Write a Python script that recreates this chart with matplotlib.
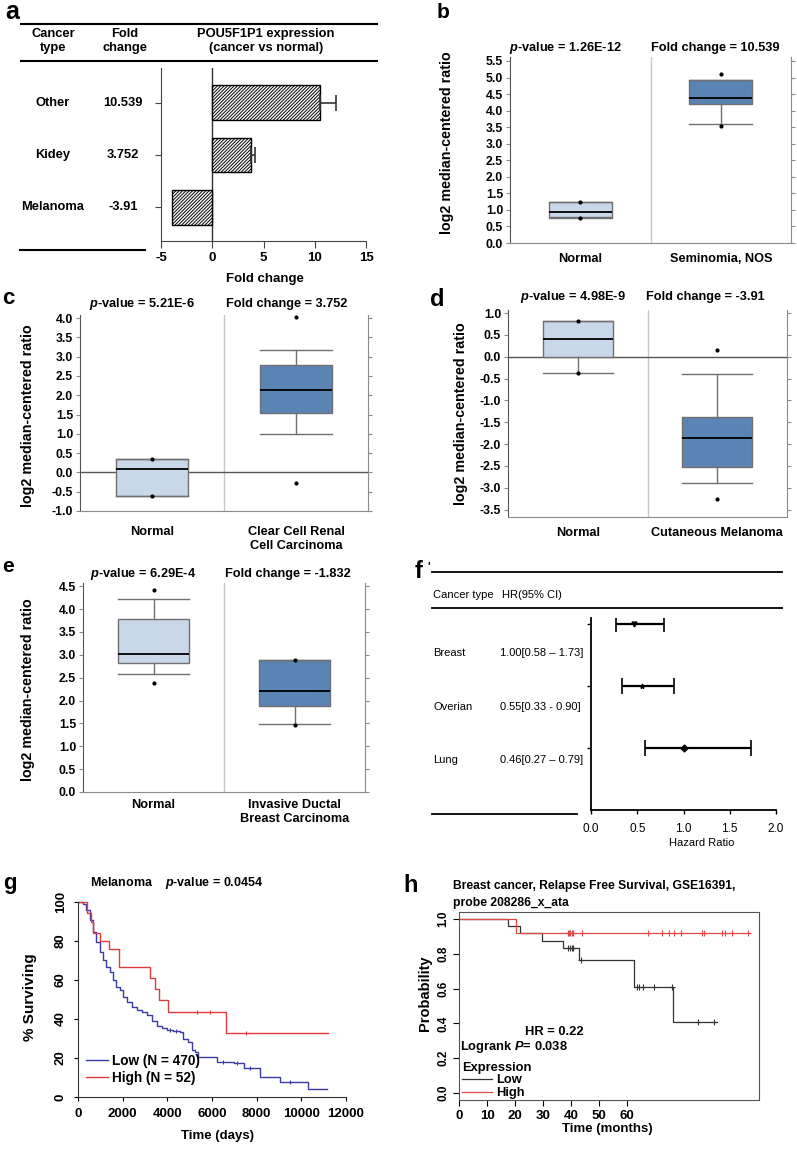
import numpy as np
import matplotlib
matplotlib.use("Agg")
import matplotlib.pyplot as plt
from matplotlib.lines import Line2D
from matplotlib import font_manager
from matplotlib.transforms import blended_transform_factory

# ---------------- data ----------------
# panel a
cancer_types = ["Other", "Kidey", "Melanoma"]
fold_changes = [10.539, 3.752, -3.91]
fold_err = [1.55, 0.43, 0.0]
fold_text = ["10.539", "3.752", "-3.91"]

# panel b (Oncomine box stats)
b_groups = ["Normal", "Seminomia, NOS"]
b_med = [0.95, 4.37]
b_q1 = [0.80, 4.20]
b_q3 = [1.25, 4.94]
b_lo = [0.77, 3.60]
b_hi = [1.25, 4.94]
b_out = [[1.25, 0.75], [5.12, 3.55]]

# panel c
c_groups = ["Normal", "Clear Cell Renal\nCell Carcinoma"]
c_med = [0.08, 2.14]
c_q1 = [-0.60, 1.55]
c_q3 = [0.34, 2.78]
c_lo = [-0.60, 0.99]
c_hi = [0.34, 3.17]
c_out = [[0.34, -0.60], [4.02, -0.28]]

# panel d
d_groups = ["Normal", "Cutaneous Melanoma"]
d_med = [0.40, -1.85]
d_q1 = [0.0, -2.53]
d_q3 = [0.82, -1.38]
d_lo = [-0.38, -2.89]
d_hi = [0.82, -0.39]
d_out = [[0.82, -0.38], [0.16, -3.26]]

# panel e
e_groups = ["Normal", "Invasive Ductal\nBreast Carcinoma"]
e_med = [3.02, 2.20]
e_q1 = [2.83, 1.88]
e_q3 = [3.79, 2.88]
e_lo = [2.57, 1.49]
e_hi = [4.22, 2.88]
e_out = [[4.42, 2.38], [2.88, 1.47]]

# panel f (forest)
forest_types = ["Breast", "Overian", "Lung"]
hr = [1.00, 0.55, 0.46]
ci_lo = [0.58, 0.33, 0.27]
ci_hi = [1.73, 0.90, 0.79]
ci_sep = ["\u2013", "-", "\u2013"]

# panel g (KM, days / % surviving)
g_low_t = [0, 225, 375, 525, 674, 824, 974, 1124, 1273, 1423, 1573, 1723, 1873,
           2022, 2172, 2397, 2622, 2847, 3072, 3297, 3521, 3746, 3971, 4271,
           4571, 4721, 4946, 5096, 5245, 5395, 6219, 6966, 7415, 8166, 9065,
           10293, 11163]
g_low_s = [100, 98.8, 95.9, 90.8, 84.8, 79.7, 74.5, 70.3, 66.8, 64.3, 60.0, 56.6,
           54.9, 51.4, 48.5, 46.3, 44.6, 43.8, 42.1, 39.0, 36.6, 35.6, 34.4, 33.8,
           33.2, 29.7, 28.4, 24.1, 23.2, 20.7, 18.1, 17.3, 15.0, 10.4, 7.5, 4.1, 4.1]
g_high_t = [0, 390, 570, 660, 989, 1408, 1857, 3236, 3461, 3610, 4030, 6607, 11175]
g_high_s = [100, 94.2, 89.9, 84.0, 80.0, 75.9, 66.7, 60.9, 55.4, 49.7, 43.4, 33.0, 33.0]
g_low_cens = [4100, 4400, 6500, 7100, 7700, 9500]
g_high_cens = [5320, 5918, 7536]

# panel h (KM, months / probability)
h_low_t = [0, 17.4, 21.8, 29.8, 37.3, 42.9, 62.5, 76.5, 92.0]
h_low_s = [1.0, 0.962, 0.92, 0.876, 0.832, 0.765, 0.612, 0.408, 0.408]
h_high_t = [0, 20.4, 103.9]
h_high_s = [1.0, 0.92, 0.92]
h_low_cens = [39.0, 39.6, 40.2, 40.8, 43.5, 63.5, 64.4, 65.8, 69.5, 76.2, 85.2, 91.2]
h_high_cens = [39.0, 39.4, 39.8, 40.2, 40.8, 43.8, 67.4, 72.6, 74.8, 76.8, 79.3,
               86.7, 87.4, 93.8, 94.8, 97.4, 103.3]

# ---------------- style ----------------
plt.rcParams["font.family"] = ["Liberation Sans", "DejaVu Sans"]
plt.rcParams["font.weight"] = "bold"
plt.rcParams["axes.labelweight"] = "bold"
plt.rcParams["axes.unicode_minus"] = False
plt.rcParams["mathtext.fontset"] = "custom"
plt.rcParams["mathtext.it"] = "Liberation Sans:italic:bold"
plt.rcParams["mathtext.rm"] = "Liberation Sans:bold"
plt.rcParams["mathtext.bf"] = "Liberation Sans:bold"
plt.rcParams["hatch.linewidth"] = 0.7

names = {f.name for f in font_manager.fontManager.ttflist}
NARROW = "Liberation Sans Narrow" if "Liberation Sans Narrow" in names else "Liberation Sans"
NSIZE = 9.5 if NARROW == "Liberation Sans Narrow" else 8.0

W, H = 797, 1150
fig = plt.figure(figsize=(W / 100, H / 100), dpi=100)
fig.patch.set_facecolor("white")


def pax(x0, y0, x1, y1):
    return fig.add_axes([x0 / W, 1 - y1 / H, (x1 - x0) / W, (y1 - y0) / H])


def ftext(x, y, s, **kw):
    kw.setdefault("ha", "center")
    kw.setdefault("va", "center")
    return fig.text(x / W, 1 - y / H, s, **kw)


def hline(y, x0, x1, lw=1.3):
    fig.add_artist(Line2D([x0 / W, x1 / W], [1 - y / H, 1 - y / H], lw=lw,
                          color="black", transform=fig.transFigure))


LIGHT = "#C9D7EA"
DARK = "#5A84B4"
EDGE = "#707070"

# ---------------- panel a ----------------
ftext(12, 12, "a", fontsize=18)
hline(24, 21, 377, 1.5)
hline(61, 21, 377, 1.5)
hline(250, 20, 145, 1.5)
ftext(53, 41, "Cancer\ntype", fontsize=9.3, linespacing=1.3)
ftext(125, 41, "Fold\nchange", fontsize=9.3, linespacing=1.3)
ftext(266, 41, "POU5F1P1 expression\n(cancer vs normal)", fontsize=9.3, linespacing=1.3)

axa = pax(161, 68, 366, 241)
ypos = np.arange(len(cancer_types))[::-1]
axa.barh(ypos, fold_changes, height=0.67, color="white", edgecolor="black",
         hatch="//////////", lw=1.0, zorder=2)
for yv, v, e in zip(ypos, fold_changes, fold_err):
    if e > 0:
        axa.errorbar(v, yv, xerr=[[0], [e]], fmt="none", ecolor="#333333",
                     elinewidth=1.2, capsize=6, capthick=1.2, zorder=3)
axa.axvline(0, color="#333333", lw=1.0, zorder=1)
axa.set_xlim(-5, 15)
axa.set_ylim(-0.65, 2.67)
axa.set_xticks([-5, 0, 5, 10, 15])
axa.set_yticks(ypos)
axa.set_yticklabels([])
for s in ["top", "right"]:
    axa.spines[s].set_visible(False)
for s in ["left", "bottom"]:
    axa.spines[s].set_color("#444444")
axa.tick_params(axis="x", length=5, labelsize=9.5, pad=3, color="#444444")
axa.tick_params(axis="y", length=4, color="#444444")
tr = blended_transform_factory(fig.transFigure, axa.transData)
for yv, ct, ft in zip(ypos, cancer_types, fold_text):
    fig.text(53 / W, yv, ct, transform=tr, ha="center", va="center", fontsize=9.3)
    fig.text(123 / W, yv, ft, transform=tr, ha="center", va="center", fontsize=9.3)
ftext(265, 279, "Fold change", fontsize=9.5)


# ---------------- box panels ----------------
def boxpanel(rect, groups, med, q1, q3, lo, hi, out, ylim, yticks, width,
             ptxt, fctxt, ppos, fcpos, ylab_pos, xpad, zero=False):
    ax = pax(*rect)
    stats = []
    for i in range(2):
        stats.append(dict(med=med[i], q1=q1[i], q3=q3[i], whislo=lo[i],
                          whishi=hi[i], fliers=np.array(out[i]), label=groups[i]))
    bp = ax.bxp(stats, positions=[0, 1], widths=width, capwidths=width,
                patch_artist=True, showfliers=True,
                boxprops=dict(edgecolor=EDGE, lw=1.0),
                medianprops=dict(color="black", lw=1.3),
                whiskerprops=dict(color=EDGE, lw=1.0),
                capprops=dict(color=EDGE, lw=1.0),
                flierprops=dict(marker="o", ms=2, mfc="black", mec="black"))
    for patch, col in zip(bp["boxes"], [LIGHT, DARK]):
        patch.set_facecolor(col)
    ax.set_xlim(-0.5, 1.5)
    ax.set_ylim(*ylim)
    ax.axvline(0.5, color="#C8C8C8", lw=1.0, zorder=0)
    if zero:
        ax.axhline(0, color="#555555", lw=1.0, zorder=1)
    ax.set_yticks(yticks)
    ax.set_yticklabels([f"{t:.1f}" for t in yticks])
    ax.spines["top"].set_visible(False)
    ax.spines["right"].set_color("#8A8A8A")
    ax.spines["left"].set_color("#555555")
    ax.spines["bottom"].set_color("#8A8A8A")
    ax.tick_params(axis="y", right=True, left=True, length=3, color="#8A8A8A",
                   labelsize=8.8, pad=2)
    ax.tick_params(axis="x", length=0, labelsize=9.2, pad=xpad)
    ftext(ppos[0], ppos[1], ptxt, fontsize=9.2)
    ftext(fcpos[0], fcpos[1], fctxt, fontsize=9.2)
    ftext(ylab_pos[0], ylab_pos[1], "log2 median-centered ratio", fontsize=10.3,
          rotation=90)
    return ax


ftext(443, 12, "b", fontsize=15)
boxpanel((510, 57, 791, 243), b_groups, b_med, b_q1, b_q3, b_lo, b_hi, b_out,
         (0, 5.62), np.arange(0, 5.51, 0.5), 0.45,
         "$p$-value = 1.26E-12", "Fold change = 10.539", (565, 48), (715, 48),
         (447, 143), 7)

ftext(8, 299, "c", fontsize=16)
boxpanel((80, 315, 368, 511), c_groups, c_med, c_q1, c_q3, c_lo, c_hi, c_out,
         (-1.0, 4.08), np.arange(-1.0, 4.01, 0.5), 0.5,
         "$p$-value = 5.21E-6", "Fold change = 3.752", (142, 304), (287, 304),
         (28, 416), 11, zero=True)

ftext(437, 300, "d", fontsize=17)
boxpanel((508, 310, 787, 517), d_groups, d_med, d_q1, d_q3, d_lo, d_hi, d_out,
         (-3.67, 1.07), np.arange(-3.5, 1.01, 0.5), 0.5,
         "$p$-value = 4.98E-9", "Fold change = -3.91", (573, 297), (705, 297),
         (461, 414), 7, zero=True)

ftext(8, 567, "e", fontsize=15)
boxpanel((83, 583, 365, 792), e_groups, e_med, e_q1, e_q3, e_lo, e_hi, e_out,
         (0, 4.57), np.arange(0, 4.51, 0.5), 0.5,
         "$p$-value = 6.29E-4", "Fold change = -1.832", (143, 574), (288, 574),
         (28, 690), 5)

# ---------------- panel f ----------------
ftext(419, 572, "f", fontsize=17)
ftext(429, 566, "'", fontsize=8)
hline(572, 432, 782, 1.3)
hline(608, 432, 782, 1.3)
hline(814, 432, 577, 1.3)
nkw = dict(family=[NARROW, "DejaVu Sans"], fontweight="normal", fontsize=NSIZE)
ftext(433, 595, "Cancer type", ha="left", **nkw)
ftext(502, 595, "HR(95% CI)", ha="left", **nkw)
for i, (ct, h_, lo_, hi_, sep) in enumerate(zip(forest_types, hr, ci_lo, ci_hi, ci_sep)):
    yrow = 653 + 53.5 * i
    ftext(433, yrow, ct, ha="left", **nkw)
    ftext(500, yrow, f"{h_:.2f}[{lo_:.2f} {sep} {hi_:.2f}]", ha="left", **nkw)

axf = pax(591, 618, 776, 810)
rows = np.arange(len(forest_types))
markers = ["D", "*", "v"]
for r, h_, lo_, hi_, mk in zip(rows, hr, ci_lo, ci_hi, markers):
    axf.errorbar(h_, r, xerr=[[h_ - lo_], [hi_ - h_]], fmt=mk, ms=3.5, color="black",
                 ecolor="black", elinewidth=1.6, capsize=6, capthick=1.2)
axf.set_xlim(0, 2)
axf.set_ylim(-1.0, 2.09)
axf.set_xticks([0, 0.5, 1.0, 1.5, 2.0])
axf.set_xticklabels(["0.0", "0.5", "1.0", "1.5", "2.0"])
axf.set_yticks(rows)
axf.set_yticklabels([])
for s in ["top", "right"]:
    axf.spines[s].set_visible(False)
axf.spines["left"].set_linewidth(1.3)
axf.spines["bottom"].set_linewidth(1.3)
axf.tick_params(axis="both", length=3, width=1.0)
axf.tick_params(axis="x", pad=6)
for lbl in axf.get_xticklabels():
    lbl.set_family([NARROW, "DejaVu Sans"])
    lbl.set_fontweight("normal")
    lbl.set_fontsize(NSIZE + 0.5)
ftext(702, 843, "Hazard Ratio", **nkw)

# ---------------- panel g ----------------
BLUE = "#3B3BA3"
RED = "#E03A3A"
ftext(10, 883, "g", fontsize=16)
ftext(90, 883, "Melanoma    $p$-value = 0.0454", ha="left", fontsize=9)
axg = pax(78, 902, 346, 1097)
l1, = axg.plot(g_low_t, g_low_s, drawstyle="steps-post", color=BLUE, lw=1.0,
               clip_on=False, label="Low (N = 470)")
l2, = axg.plot(g_high_t, g_high_s, drawstyle="steps-post", color=RED, lw=1.0,
               clip_on=False, label="High (N = 52)")


def step_at(t, s, c):
    idx = np.searchsorted(np.asarray(t), np.asarray(c), side="right") - 1
    return np.asarray(s)[idx]


axg.plot(g_low_cens, step_at(g_low_t, g_low_s, g_low_cens), ls="none",
         marker="|", ms=3, color=BLUE, mew=0.8)
axg.plot(g_high_cens, step_at(g_high_t, g_high_s, g_high_cens), ls="none",
         marker="|", ms=3, color=RED, mew=0.8)
axg.set_xlim(0, 12000)
axg.set_ylim(0, 100)
axg.set_xticks(np.arange(0, 12001, 2000))
axg.set_yticks(np.arange(0, 101, 20))
for s in ["top", "right"]:
    axg.spines[s].set_visible(False)
axg.spines["left"].set_color("#333333")
axg.spines["bottom"].set_color("#333333")
axg.tick_params(axis="x", length=3, labelsize=9.5, pad=5)
axg.tick_params(axis="y", length=3, labelsize=9.5, pad=5, labelrotation=90)
for lbl in axg.get_yticklabels():
    lbl.set_va("center")
axg.legend(handles=[l1, l2], loc="lower left", bbox_to_anchor=(0.0, 0.02),
           frameon=False, fontsize=9.8, handlelength=1.6, handletextpad=0.3,
           labelspacing=0.2, borderaxespad=0.2)
ftext(218, 1136, "Time (days)", fontsize=9.5)
ftext(30, 997, "% Surviving", fontsize=11, rotation=90)

# ---------------- panel h ----------------
ftext(411, 885, "h", fontsize=17)
ftext(453, 886, "Breast cancer, Relapse Free Survival, GSE16391,", ha="left", fontsize=8.7)
ftext(453, 903, "probe 208286_x_ata", ha="left", fontsize=8.7)
axh = pax(459, 912, 759, 1100)
k1, = axh.plot(h_low_t, h_low_s, drawstyle="steps-post", color="#333333", lw=0.9,
               label="Low")
k2, = axh.plot(h_high_t, h_high_s, drawstyle="steps-post", color="#E04848", lw=0.9,
               label="High")
axh.plot(h_low_cens, step_at(h_low_t, h_low_s, h_low_cens), ls="none", marker="+",
         ms=5, color="#333333", mew=0.8)
axh.plot(h_high_cens, step_at(h_high_t, h_high_s, h_high_cens), ls="none",
         marker="+", ms=5, color="#E04848", mew=0.8)
axh.set_xlim(0, 107.1)
axh.set_ylim(-0.04, 1.04)
axh.set_xticks([0, 10, 20, 30, 40, 50, 60])
axh.set_yticks(np.arange(0, 1.01, 0.2))
axh.set_yticklabels([f"{v:.1f}" for v in np.arange(0, 1.01, 0.2)])
for s in axh.spines.values():
    s.set_color("#555555")
axh.tick_params(axis="x", length=4, labelsize=9.5, pad=3)
axh.tick_params(axis="y", length=4, labelsize=8.5, pad=3, labelrotation=90)
for lbl in axh.get_yticklabels():
    lbl.set_va("center")
ftext(525, 1032, "HR = 0.22", ha="left", fontsize=9.3)
ftext(460, 1047, "Logrank $P$= 0.038", ha="left", fontsize=9.3)
axh.legend(handles=[k1, k2], title="Expression", loc="lower left",
           bbox_to_anchor=(-0.01, -0.03), frameon=False, fontsize=9.3,
           title_fontsize=9.3, handlelength=2.3, handletextpad=0.3,
           labelspacing=0.05, borderaxespad=0.1, alignment="left")
ftext(607, 1129, "Time (months)", fontsize=9.5)
ftext(425, 993, "Probability", fontsize=10.5, rotation=90)

fig.savefig("out.png", dpi=100, facecolor="white")
